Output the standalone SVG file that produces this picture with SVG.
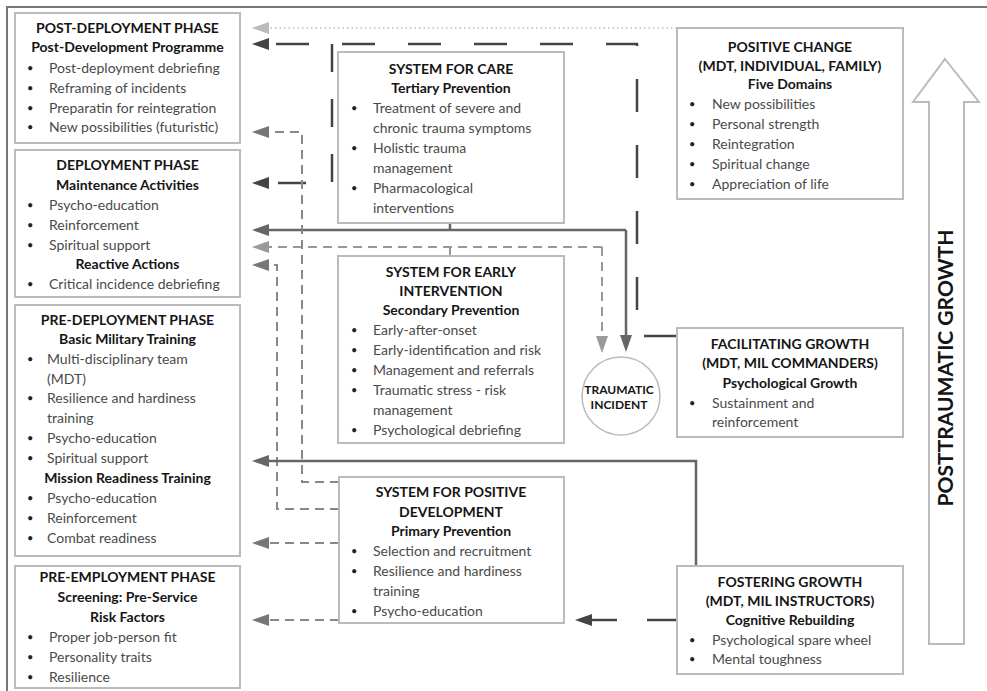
<svg xmlns="http://www.w3.org/2000/svg" width="987" height="691" viewBox="0 0 987 691">
<defs>
<style>
.box{fill:#fff;stroke:#bbb;stroke-width:2}
.t{font-family:Lato,"Open Sans","Liberation Sans",sans-serif;font-size:14px;font-weight:bold;fill:#151515;text-anchor:middle}
.b{font-family:Lato,"Open Sans","Liberation Sans",sans-serif;font-size:14px;fill:#4a4a4a}
.d{font-family:Lato,"Liberation Sans",sans-serif;font-size:11px;fill:#222}
.c{fill:none}
</style>
<marker id="aDark" markerUnits="userSpaceOnUse" markerWidth="18" markerHeight="12" refX="12" refY="6" orient="auto"><path d="M0,0 L17,6 L0,12 z" fill="#444"/></marker>
<marker id="aMid" markerUnits="userSpaceOnUse" markerWidth="18" markerHeight="12" refX="12" refY="6" orient="auto"><path d="M0,0 L17,6 L0,12 z" fill="#666"/></marker>
<marker id="aGray" markerUnits="userSpaceOnUse" markerWidth="18" markerHeight="12" refX="12" refY="6" orient="auto"><path d="M0,0 L17,6 L0,12 z" fill="#777"/></marker>
<marker id="aLight" markerUnits="userSpaceOnUse" markerWidth="18" markerHeight="12" refX="12" refY="6" orient="auto"><path d="M0,0 L17,6 L0,12 z" fill="#999"/></marker>
<marker id="aPale" markerUnits="userSpaceOnUse" markerWidth="18" markerHeight="12" refX="12" refY="6" orient="auto"><path d="M0,0 L17,6 L0,12 z" fill="#bbb"/></marker>
</defs>
<rect x="0" y="0" width="987" height="691" fill="#fff"/>
<rect x="7" y="7" width="995" height="700" fill="none" stroke="#777" stroke-width="2"/>

<g id="connectors">
<path class="c" d="M677,28 H257" stroke="#bbb" stroke-width="1.5" stroke-dasharray="1.5 3" marker-end="url(#aPale)"/>
<path class="c" d="M677,336 H637 V44 H257" stroke="#444" stroke-width="2.5" stroke-dasharray="33 33" marker-end="url(#aDark)"/>
<path class="c" d="M332,44 V183 H257" stroke="#444" stroke-width="2.5" stroke-dasharray="28 27" marker-end="url(#aDark)"/>
<path class="c" d="M450,223 V230" stroke="#666" stroke-width="2.5"/>
<path class="c" d="M626,230 H257" stroke="#666" stroke-width="2.5" marker-end="url(#aMid)"/>
<path class="c" d="M626,230 V347" stroke="#666" stroke-width="2.5" marker-end="url(#aMid)"/>
<path class="c" d="M450,256 V247" stroke="#999" stroke-width="2"/>
<path class="c" d="M602,247 H257" stroke="#999" stroke-width="2" stroke-dasharray="9 6" marker-end="url(#aLight)"/>
<path class="c" d="M602,247 V348" stroke="#999" stroke-width="2" stroke-dasharray="9 6" marker-end="url(#aLight)"/>
<path class="c" d="M339,482 H302 V132 H257" stroke="#888" stroke-width="2" stroke-dasharray="9 6" marker-end="url(#aGray)"/>
<path class="c" d="M339,509 H277 V265 H257" stroke="#888" stroke-width="2" stroke-dasharray="9 6" marker-end="url(#aGray)"/>
<path class="c" d="M339,543 H257" stroke="#888" stroke-width="2" stroke-dasharray="9 6" marker-end="url(#aGray)"/>
<path class="c" d="M339,620 H257" stroke="#888" stroke-width="2" stroke-dasharray="9 6" marker-end="url(#aGray)"/>
<path class="c" d="M696,566 V461 H257" stroke="#666" stroke-width="2.5" marker-end="url(#aMid)"/>
<path class="c" d="M677,620 H580" stroke="#444" stroke-width="2.5" stroke-dasharray="30 30" marker-end="url(#aDark)"/>
</g>

<g id="post-deployment">
<rect class="box" x="15" y="13" width="225" height="130"/>
<text class="t" x="127.5" y="33">POST-DEPLOYMENT PHASE</text>
<text class="t" x="127.5" y="52">Post-Development Programme</text>
<text class="d" x="27" y="72">•</text><text class="b" x="49" y="73">Post-deployment debriefing</text>
<text class="d" x="27" y="92">•</text><text class="b" x="49" y="93">Reframing of incidents</text>
<text class="d" x="27" y="112">•</text><text class="b" x="49" y="113">Preparatin for reintegration</text>
<text class="d" x="27" y="131">•</text><text class="b" x="49" y="132">New possibilities (futuristic)</text>
</g>

<g id="deployment">
<rect class="box" x="15" y="150" width="225" height="147"/>
<text class="t" x="127.5" y="170">DEPLOYMENT PHASE</text>
<text class="t" x="127.5" y="190">Maintenance Activities</text>
<text class="d" x="27" y="209">•</text><text class="b" x="49" y="210">Psycho-education</text>
<text class="d" x="27" y="229">•</text><text class="b" x="49" y="230">Reinforcement</text>
<text class="d" x="27" y="249">•</text><text class="b" x="49" y="250">Spiritual support</text>
<text class="t" x="127.5" y="269">Reactive Actions</text>
<text class="d" x="27" y="288">•</text><text class="b" x="49" y="289">Critical incidence debriefing</text>
</g>

<g id="pre-deployment">
<rect class="box" x="15" y="305" width="225" height="251"/>
<text class="t" x="127.5" y="325">PRE-DEPLOYMENT PHASE</text>
<text class="t" x="127.5" y="344">Basic Military Training</text>
<text class="d" x="27" y="363">•</text><text class="b" x="47" y="364">Multi-disciplinary team</text>
<text class="b" x="47" y="384">(MDT)</text>
<text class="d" x="27" y="402">•</text><text class="b" x="47" y="403">Resilience and hardiness</text>
<text class="b" x="47" y="423">training</text>
<text class="d" x="27" y="442">•</text><text class="b" x="47" y="443">Psycho-education</text>
<text class="d" x="27" y="462">•</text><text class="b" x="47" y="463">Spiritual support</text>
<text class="t" x="127.5" y="483">Mission Readiness Training</text>
<text class="d" x="27" y="502">•</text><text class="b" x="47" y="503">Psycho-education</text>
<text class="d" x="27" y="522">•</text><text class="b" x="47" y="523">Reinforcement</text>
<text class="d" x="27" y="542">•</text><text class="b" x="47" y="543">Combat readiness</text>
</g>

<g id="pre-employment">
<rect class="box" x="15" y="566" width="225" height="122"/>
<text class="t" x="127.5" y="582">PRE-EMPLOYMENT PHASE</text>
<text class="t" x="127.5" y="602">Screening: Pre-Service</text>
<text class="t" x="127.5" y="622">Risk Factors</text>
<text class="d" x="27" y="641">•</text><text class="b" x="49" y="642">Proper job-person fit</text>
<text class="d" x="27" y="661">•</text><text class="b" x="49" y="662">Personality traits</text>
<text class="d" x="27" y="681">•</text><text class="b" x="49" y="682">Resilience</text>
</g>

<g id="system-care">
<rect class="box" x="338" y="52" width="226" height="171"/>
<text class="t" x="451" y="74">SYSTEM FOR CARE</text>
<text class="t" x="451" y="93">Tertiary Prevention</text>
<text class="d" x="351" y="112">•</text><text class="b" x="373" y="113">Treatment of severe and</text>
<text class="b" x="373" y="133">chronic trauma symptoms</text>
<text class="d" x="351" y="152">•</text><text class="b" x="373" y="153">Holistic trauma</text>
<text class="b" x="373" y="173">management</text>
<text class="d" x="351" y="192">•</text><text class="b" x="373" y="193">Pharmacological</text>
<text class="b" x="373" y="213">interventions</text>
</g>

<g id="system-early">
<rect class="box" x="338" y="256" width="226" height="187"/>
<text class="t" x="451" y="277">SYSTEM FOR EARLY</text>
<text class="t" x="451" y="296">INTERVENTION</text>
<text class="t" x="451" y="315">Secondary Prevention</text>
<text class="d" x="351" y="334">•</text><text class="b" x="373" y="335">Early-after-onset</text>
<text class="d" x="351" y="354">•</text><text class="b" x="373" y="355">Early-identification and risk</text>
<text class="d" x="351" y="374">•</text><text class="b" x="373" y="375">Management and referrals</text>
<text class="d" x="351" y="394">•</text><text class="b" x="373" y="395">Traumatic stress - risk</text>
<text class="b" x="373" y="415">management</text>
<text class="d" x="351" y="434">•</text><text class="b" x="373" y="435">Psychological debriefing</text>
</g>

<g id="system-positive">
<rect class="box" x="339" y="477" width="225" height="146"/>
<text class="t" x="451" y="497">SYSTEM FOR POSITIVE</text>
<text class="t" x="451" y="517">DEVELOPMENT</text>
<text class="t" x="451" y="536">Primary Prevention</text>
<text class="d" x="351" y="555">•</text><text class="b" x="373" y="556">Selection and recruitment</text>
<text class="d" x="351" y="575">•</text><text class="b" x="373" y="576">Resilience and hardiness</text>
<text class="b" x="373" y="596">training</text>
<text class="d" x="351" y="615">•</text><text class="b" x="373" y="616">Psycho-education</text>
</g>

<g id="traumatic-incident">
<circle cx="621" cy="396" r="39" fill="#fff" stroke="#bbb" stroke-width="1.5"/>
<text class="t" x="619" y="394" style="font-size:12px">TRAUMATIC</text>
<text class="t" x="619" y="409" style="font-size:12px">INCIDENT</text>
</g>

<g id="positive-change">
<rect class="box" x="677" y="28" width="226" height="171"/>
<text class="t" x="790" y="52">POSITIVE CHANGE</text>
<text class="t" x="790" y="71">(MDT, INDIVIDUAL, FAMILY)</text>
<text class="t" x="790" y="89">Five Domains</text>
<text class="d" x="689" y="108">•</text><text class="b" x="712" y="109">New possibilities</text>
<text class="d" x="689" y="128">•</text><text class="b" x="712" y="129">Personal strength</text>
<text class="d" x="689" y="148">•</text><text class="b" x="712" y="149">Reintegration</text>
<text class="d" x="689" y="168">•</text><text class="b" x="712" y="169">Spiritual change</text>
<text class="d" x="689" y="188">•</text><text class="b" x="712" y="189">Appreciation of life</text>
</g>

<g id="facilitating-growth">
<rect class="box" x="677" y="328" width="226" height="109"/>
<text class="t" x="790" y="349">FACILITATING GROWTH</text>
<text class="t" x="790" y="368">(MDT, MIL COMMANDERS)</text>
<text class="t" x="790" y="388">Psychological Growth</text>
<text class="d" x="689" y="407">•</text><text class="b" x="712" y="408">Sustainment and</text>
<text class="b" x="712" y="427">reinforcement</text>
</g>

<g id="fostering-growth">
<rect class="box" x="677" y="566" width="226" height="108"/>
<text class="t" x="790" y="587">FOSTERING GROWTH</text>
<text class="t" x="790" y="606">(MDT, MIL INSTRUCTORS)</text>
<text class="t" x="790" y="625">Cognitive Rebuilding</text>
<text class="d" x="689" y="644">•</text><text class="b" x="712" y="645">Psychological spare wheel</text>
<text class="d" x="689" y="663">•</text><text class="b" x="712" y="664">Mental toughness</text>
</g>

<g id="posttraumatic-growth">
<polygon points="945,59 979,102 964,102 964,644 929,644 929,102 913,102" fill="#fff" stroke="#bbb" stroke-width="2"/>
<text class="t" transform="translate(953,368) rotate(-90)" style="font-size:21px">POSTTRAUMATIC GROWTH</text>
</g>
</svg>
